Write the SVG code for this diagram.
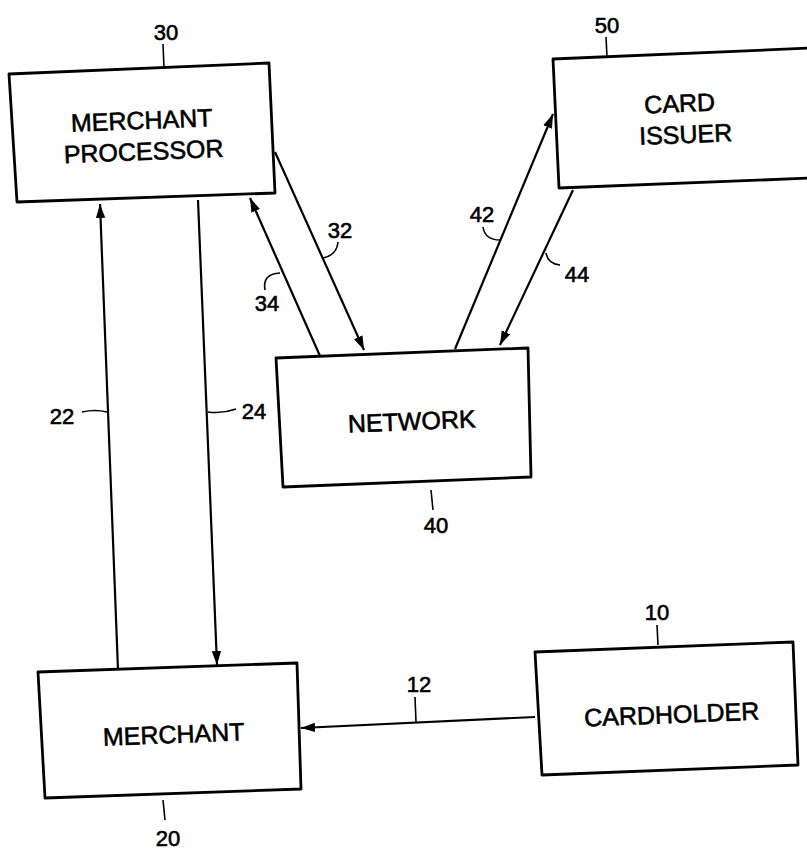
<svg xmlns="http://www.w3.org/2000/svg" width="807" height="852" viewBox="0 0 807 852">
<defs>
<style>
.box{fill:#fff;stroke:#000;stroke-width:2.8;stroke-linejoin:round}
.lbl{font-family:"Liberation Sans",Arial,sans-serif;font-size:25px;fill:#000;stroke:#000;stroke-width:0.6;text-anchor:middle}
.num{font-family:"Liberation Sans",Arial,sans-serif;font-size:22px;fill:#000;stroke:#000;stroke-width:0.6;text-anchor:middle}
.ln{stroke:#000;stroke-width:2.2;fill:none}
.ld{stroke:#000;stroke-width:1.6;fill:none}
</style>
<marker id="ah" viewBox="0 0 12 8" refX="12" refY="4" markerWidth="14" markerHeight="10" markerUnits="userSpaceOnUse" orient="auto">
<path d="M0,0 L12,4 L0,8 Z" fill="#000"/>
</marker>
</defs>
<rect width="807" height="852" fill="#fff"/>
<g id="connectors">
<line class="ln" x1="535" y1="717" x2="301" y2="728" marker-end="url(#ah)"/>
<line class="ln" x1="118" y1="670" x2="100" y2="204" marker-end="url(#ah)"/>
<line class="ln" x1="198" y1="200" x2="217" y2="665" marker-end="url(#ah)"/>
<line class="ln" x1="275" y1="152" x2="364" y2="350" marker-end="url(#ah)"/>
<line class="ln" x1="320" y1="356" x2="250" y2="198" marker-end="url(#ah)"/>
<line class="ln" x1="455" y1="349" x2="553" y2="114" marker-end="url(#ah)"/>
<line class="ln" x1="573" y1="190" x2="500" y2="345" marker-end="url(#ah)"/>
<path class="ld" d="M82,412 Q95,409 107,412"/>
<path class="ld" d="M208,412 Q222,414 236,409"/>
<path class="ld" d="M338,242 Q337,255 323,258"/>
<path class="ld" d="M265,290 Q262,274 280,273"/>
<path class="ld" d="M483,227 Q485,240 500,240"/>
<path class="ld" d="M546,253 Q548,264 560,265"/>
<path class="ld" d="M415,697 L416,722"/>
<text class="num" x="62" y="424">22</text>
<text class="num" x="254" y="419">24</text>
<text class="num" x="340" y="238">32</text>
<text class="num" x="267" y="311">34</text>
<text class="num" x="482" y="222">42</text>
<text class="num" x="577" y="282">44</text>
<text class="num" x="419" y="692">12</text>
</g>
<g id="merchant-processor">
<polygon class="box" points="9,74 269,63 275,193 17,202"/>
<text class="lbl" x="142" y="129" transform="rotate(-2.3 142 129)">MERCHANT</text>
<text class="lbl" x="144" y="160" transform="rotate(-2.3 144 160)">PROCESSOR</text>
<path class="ld" d="M163,44 L164,68"/>
<text class="num" x="166" y="40">30</text>
</g>
<g id="card-issuer">
<polygon class="box" points="553,59 812,48 812,178 559,188"/>
<text class="lbl" x="680" y="112" transform="rotate(-2.3 680 112)">CARD</text>
<text class="lbl" x="686" y="143" transform="rotate(-2.3 686 143)">ISSUER</text>
<path class="ld" d="M606,37 L607,57"/>
<text class="num" x="607" y="33">50</text>
</g>
<g id="network">
<polygon class="box" points="276,358 528,348 531,477 283,487"/>
<text class="lbl" x="412" y="430" transform="rotate(-2.3 412 430)">NETWORK</text>
<path class="ld" d="M431,490 L433,510"/>
<text class="num" x="436" y="533">40</text>
</g>
<g id="merchant">
<polygon class="box" points="38,672 297,663 301,789 45,798"/>
<text class="lbl" x="174" y="743" transform="rotate(-2.3 174 743)">MERCHANT</text>
<path class="ld" d="M163,800 L165,820"/>
<text class="num" x="168" y="846">20</text>
</g>
<g id="cardholder">
<polygon class="box" points="535,652 793,642 798,765 542,775"/>
<text class="lbl" x="672" y="723" transform="rotate(-2.3 672 723)">CARDHOLDER</text>
<path class="ld" d="M657,625 L658,645"/>
<text class="num" x="657" y="620">10</text>
</g>
</svg>
